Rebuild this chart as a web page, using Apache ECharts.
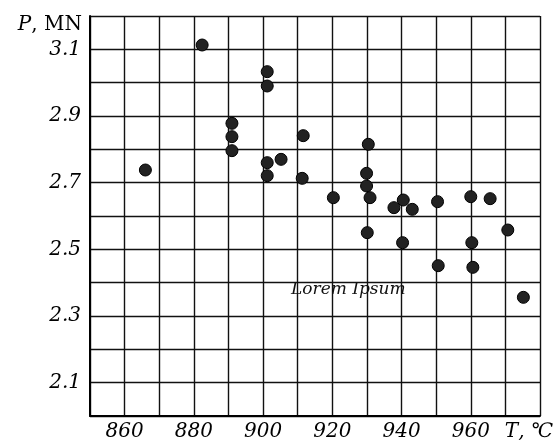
<!DOCTYPE html>
<html>
<head>
<meta charset="utf-8">
<script src="https://cdn.jsdelivr.net/npm/echarts@6/dist/echarts.min.js"></script>
<style>
  html, body { margin: 0; padding: 0; background: #fff; }
  #chart { width: 557px; height: 446px; }
</style>
</head>
<body>
<div id="chart"></div>
<script>
// temperature T (°C) and load P (MN)
const temps = [866, 882.4, 901.2, 901.2, 891, 891, 891, 901.2, 901.2, 905.2,
  911.6, 911.3, 920.3, 930.4, 929.9, 929.9, 930.9, 937.8, 940.5, 943.1,
  950.4, 960, 965.6, 930.1, 940.3, 950.6, 960.3, 960.6, 970.7, 975.2];
const loads = [2.738, 3.113, 3.033, 2.99, 2.878, 2.838, 2.796, 2.76, 2.721, 2.77,
  2.841, 2.713, 2.655, 2.815, 2.728, 2.69, 2.655, 2.625, 2.648, 2.62,
  2.643, 2.658, 2.652, 2.55, 2.52, 2.451, 2.52, 2.446, 2.558, 2.356];
const xLabels = [860, 880, 900, 920, 940, 960];
const yLabels = [3.1, 2.9, 2.7, 2.5, 2.3, 2.1];
const note = 'Lorem Ipsum';

const font = 'DejaVu Serif';
const chart = echarts.init(document.getElementById('chart'));
const gridLine = {show: true, lineStyle: {color: '#111', width: 1.4}};

chart.setOption({
    animation: false,
    grid: {left: 90, right: 17, top: 16, bottom: 30, outerBoundsMode: 'none'},
    xAxis: {
        type: 'value',
        min: 850,
        max: 980,
        interval: 10,
        axisLine: {show: true, lineStyle: {color: '#000', width: 2}},
        axisTick: {show: false},
        splitLine: gridLine,
        axisLabel: {
            margin: 6,
            fontFamily: font,
            fontStyle: 'italic',
            fontSize: 20,
            color: '#000',
            showMinLabel: true,
            showMaxLabel: true,
            formatter: v => {
                if (v === 980) return '{t|T}{u|, ℃}{s|}';
                return xLabels.includes(v) ? String(v) : '';
            },
            rich: {
                t: {fontFamily: font, fontStyle: 'italic', fontSize: 20, color: '#000'},
                u: {fontFamily: font, fontSize: 20, color: '#000'},
                s: {width: 22}
            }
        }
    },
    yAxis: {
        type: 'value',
        min: 2.0,
        max: 3.2,
        interval: 0.1,
        name: '{p|P}, MN',
        nameLocation: 'end',
        nameGap: -9,
        nameTextStyle: {
            fontFamily: font,
            fontSize: 20,
            color: '#000',
            align: 'right',
            verticalAlign: 'middle',
            padding: [0, 8, 0, 0],
            rich: {p: {fontFamily: font, fontStyle: 'italic', fontSize: 20, color: '#000'}}
        },
        axisLine: {show: true, lineStyle: {color: '#000', width: 2}},
        axisTick: {show: false},
        splitLine: gridLine,
        axisLabel: {
            margin: 9,
            fontFamily: font,
            fontStyle: 'italic',
            fontSize: 20,
            color: '#000',
            formatter: v => {
                const r = Math.round(v * 10) / 10;
                return yLabels.includes(r) ? r.toFixed(1) : '';
            }
        }
    },
    graphic: [{
        type: 'text',
        left: 291,
        top: 281,
        style: {text: note, font: 'italic 17px "DejaVu Serif"', fill: '#111'}
    }],
    series: [{
        type: 'scatter',
        symbolSize: 12,
        itemStyle: {color: '#222', borderColor: '#000', borderWidth: 1, opacity: 1},
        data: temps.map((t, i) => [t, loads[i]])
    }]
});
</script>
</body>
</html>
